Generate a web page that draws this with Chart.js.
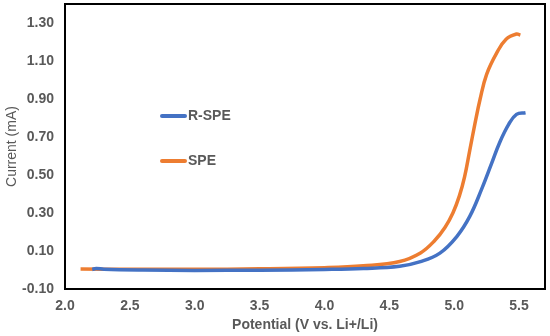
<!DOCTYPE html>
<html>
<head>
<meta charset="utf-8">
<script src="https://cdn.jsdelivr.net/npm/chart.js@4"></script>
<style>
  body { margin: 0; background: #fff; }
  #wrap { width: 550px; height: 336px; }
</style>
</head>
<body>
<div id="wrap"><canvas id="canvas"></canvas></div>
<script>
// values
let rspeV = [2.21, 2.24, 2.3, 2.6, 3.0, 3.5, 4.0, 4.3, 4.58, 4.74, 4.89, 5.02, 5.12, 5.21, 5.29, 5.35, 5.42, 5.48, 5.55];
let rspeI = [0.003, 0.008, 0.004, 0.0, -0.002, -0.001, 0.003, 0.008, 0.02, 0.044, 0.089, 0.176, 0.282, 0.423, 0.564, 0.67, 0.766, 0.819, 0.828];

let speV = [2.12, 2.5, 3.0, 3.5, 4.0, 4.3, 4.58, 4.74, 4.85, 4.93, 4.99, 5.04, 5.08, 5.12, 5.16, 5.20, 5.25, 5.33, 5.40, 5.48, 5.51];
let speI = [0.005, 0.004, 0.004, 0.006, 0.012, 0.022, 0.045, 0.09, 0.155, 0.225, 0.30, 0.39, 0.49, 0.63, 0.77, 0.90, 1.03, 1.145, 1.215, 1.242, 1.236];

let yTicks = [-0.1, 0.1, 0.3, 0.5, 0.7, 0.9, 1.1, 1.3];
let xTicks = [2.0, 2.5, 3.0, 3.5, 4.0, 4.5, 5.0, 5.5];

let blue = '#4472C4';
let orange = '#ED7D31';
let textGray = '#595959';

function toPoints(xs, ys){
  let pts = [];
  for (let i = 0; i < xs.length; i++) {
    pts.push({x: xs[i], y: ys[i]});
  }
  return pts;
}

// legend drawn inside the plot area
let insideLegend = {
  id: 'insideLegend',
  afterDraw(chart){
    let ctx = chart.ctx;
    let rows = [116, 161];
    ctx.save();
    chart.data.datasets.forEach((ds, i) => {
      let y = rows[i];
      ctx.strokeStyle = ds.borderColor;
      ctx.lineWidth = 4;
      ctx.lineCap = 'round';
      ctx.beginPath();
      ctx.moveTo(162, y);
      ctx.lineTo(185, y);
      ctx.stroke();
      ctx.fillStyle = textGray;
      ctx.font = 'bold 14px "Liberation Sans", Arial, sans-serif';
      ctx.textBaseline = 'middle';
      ctx.fillText(ds.label, 188, y + 0.5);
    });
    ctx.restore();
  }
};

// black frame round the plot
let frame = {
  id: 'frame',
  afterDatasetsDraw(chart){
    let a = chart.chartArea;
    let ctx = chart.ctx;
    ctx.save();
    ctx.strokeStyle = '#000';
    ctx.lineWidth = 2;
    ctx.strokeRect(a.left, a.top, a.right - a.left, a.bottom - a.top);
    ctx.restore();
  }
};

let font = {family: '"Liberation Sans", Arial, sans-serif', size: 14, weight: 'bold'};

function noPad(axis){
  axis.paddingTop = 0;
  axis.paddingBottom = 0;
  axis.paddingLeft = 0;
  axis.paddingRight = 0;
}

new Chart(document.getElementById('canvas'), {
  type: 'line',
  data: {
    datasets: [{
      label: 'R-SPE',
      data: toPoints(rspeV, rspeI),
      borderColor: blue,
      borderWidth: 3.5,
      pointRadius: 0,
      tension: 0.4
    }, {
      label: 'SPE',
      data: toPoints(speV, speI),
      borderColor: orange,
      borderWidth: 3.5,
      pointRadius: 0,
      tension: 0.4
    }]
  },
  options: {
    responsive: true,
    maintainAspectRatio: false,
    animation: false,
    layout: {padding: {top: 4, right: 5, left: 4, bottom: 0}},
    plugins: {
      legend: {display: false},
      tooltip: {enabled: false}
    },
    scales: {
      x: {
        type: 'linear',
        min: 2.0,
        max: 5.7,
        grid: {display: false, drawTicks: false},
        border: {display: false},
        afterBuildTicks: axis => { axis.ticks = xTicks.map(v => ({value: v})); },
        afterFit: axis => { axis.height = 47; noPad(axis); },
        ticks: {
          color: textGray,
          font: font,
          padding: 9,
          maxRotation: 0,
          callback: v => v.toFixed(1)
        },
        title: {display: true, text: 'Potential (V vs. Li+/Li)', color: textGray, font: font, padding: {top: 2, bottom: 2}}
      },
      y: {
        min: -0.1,
        max: 1.4,
        grid: {display: false, drawTicks: false},
        border: {display: false},
        afterBuildTicks: axis => { axis.ticks = yTicks.map(v => ({value: v})); },
        afterFit: axis => { axis.width = 61; noPad(axis); },
        ticks: {
          color: textGray,
          font: font,
          padding: 11,
          callback: v => v.toFixed(2)
        },
        title: {display: true, text: 'Current (mA)', color: textGray,
          font: {family: '"Liberation Sans", Arial, sans-serif', size: 14, weight: 'normal'},
          padding: {top: 0, bottom: 4}}
      }
    }
  },
  plugins: [insideLegend, frame]
});
</script>
</body>
</html>
